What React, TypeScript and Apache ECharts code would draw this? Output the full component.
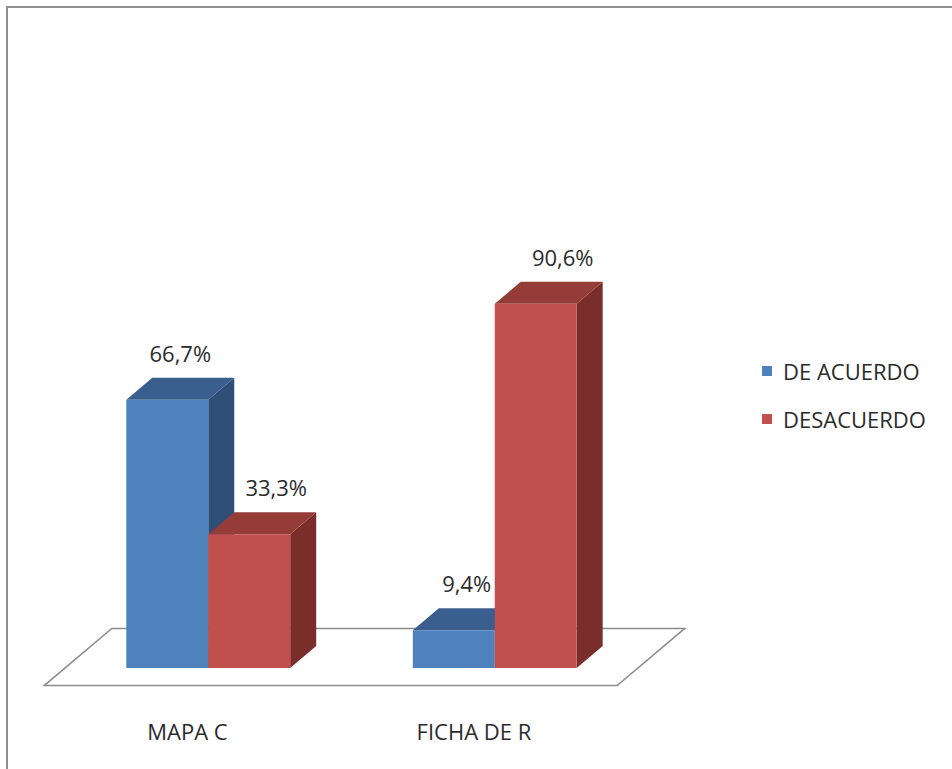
import React, { useEffect, useRef } from "react";
import * as echarts from "echarts";

// Survey results: share of answers per instrument
const categories = ["MAPA C", "FICHA DE R"];
const seriesNames = ["DE ACUERDO", "DESACUERDO"];
const deAcuerdo = [66.7, 9.4];
const desacuerdo = [33.3, 90.6];

// 3D look: front, top and side shades of each series colour
const palette = [
  { front: "#4F81BD", top: "#3A5F8E", side: "#2F4F78" },
  { front: "#C0504D", top: "#953C39", side: "#7A2E2C" },
];

const DEPTH_X = 26;
const DEPTH_Y = -22;
const BAR_RATIO = 0.286;
// extra horizontal nudge of the value label, per series
const LABEL_NUDGE = [0, 14];
const FONT = "'Open Sans', 'Noto Sans', sans-serif";
const TEXT_COLOR = "#2b2b2b";

const fmt = (v: number) => v.toFixed(1).replace(".", ",") + "%";

function barRenderer(seriesIdx: number) {
  const c = palette[seriesIdx];
  return (params: any, api: any) => {
    const cat = api.value(0);
    const val = api.value(1);
    const [cx, yTop] = api.coord([cat, val]);
    const [, yBase] = api.coord([cat, 0]);
    const band = api.size([1, 0])[0];
    const w = band * BAR_RATIO;
    const x0 = seriesIdx === 0 ? cx - w : cx;
    const x1 = x0 + w;
    const dx = DEPTH_X;
    const dy = DEPTH_Y;
    return {
      type: "group",
      children: [
        {
          type: "polygon",
          shape: {
            points: [
              [x1, yTop],
              [x1 + dx, yTop + dy],
              [x1 + dx, yBase + dy],
              [x1, yBase],
            ],
          },
          style: { fill: c.side },
        },
        {
          type: "polygon",
          shape: {
            points: [
              [x0, yTop],
              [x0 + dx, yTop + dy],
              [x1 + dx, yTop + dy],
              [x1, yTop],
            ],
          },
          style: { fill: c.top },
        },
        {
          type: "rect",
          shape: { x: x0, y: yTop, width: w, height: yBase - yTop },
          style: { fill: c.front },
        },
        {
          type: "text",
          x: (x0 + x1) / 2 + dx / 2 + LABEL_NUDGE[seriesIdx],
          y: yTop + dy - 25,
          style: {
            text: fmt(val),
            fontSize: 22,
            fontFamily: FONT,
            fill: TEXT_COLOR,
            align: "center",
            verticalAlign: "middle",
          },
        },
      ],
    };
  };
}

export default function App() {
  const ref = useRef<HTMLDivElement>(null);

  useEffect(() => {
    if (!ref.current) return;
    const chart = echarts.init(ref.current, undefined, { renderer: "svg" });

    const floorFront = -0.8;
    const floorBack = 1.8;

    chart.setOption({
      animation: false,
      backgroundColor: "#ffffff",
      graphic: [
        {
          type: "rect",
          shape: { x: 7, y: 7, width: 1200, height: 1200 },
          style: { fill: "none", stroke: "#8f8f8f", lineWidth: 2 },
          z: 0,
        },
      ],
      legend: {
        data: seriesNames,
        orient: "vertical",
        left: 757,
        top: 354,
        icon: "rect",
        itemWidth: 10,
        itemHeight: 10,
        itemGap: 24,
        textStyle: {
          fontSize: 22,
          fontFamily: FONT,
          color: TEXT_COLOR,
          lineHeight: 24,
          padding: [0, 0, 0, 6],
        },
      },
      grid: { left: 65, right: 314, top: 266, bottom: 101 },
      xAxis: {
        type: "category",
        data: categories,
        show: false,
      },
      yAxis: {
        type: "value",
        min: 0,
        max: 100,
        show: false,
      },
      series: [
        {
          type: "custom",
          name: "floor",
          z: 1,
          silent: true,
          data: [[0, 0]],
          encode: { x: 0, y: 1 },
          renderItem: (params: any, api: any) => {
            const cs = params.coordSys;
            const xl = cs.x;
            const xr = cs.x + cs.width;
            const yb = cs.y + cs.height;
            return {
              type: "polygon",
              shape: {
                points: [
                  [xl + floorFront * DEPTH_X, yb + floorFront * DEPTH_Y],
                  [xr + floorFront * DEPTH_X, yb + floorFront * DEPTH_Y],
                  [xr + floorBack * DEPTH_X, yb + floorBack * DEPTH_Y],
                  [xl + floorBack * DEPTH_X, yb + floorBack * DEPTH_Y],
                ],
              },
              style: { fill: "#ffffff", stroke: "#8c8c8c", lineWidth: 1.5 },
            };
          },
        },
        {
          type: "custom",
          name: "categoryLabels",
          z: 1,
          silent: true,
          data: categories.map((_, i) => [i, 0]),
          encode: { x: 0, y: 1 },
          renderItem: (params: any, api: any) => {
            const i = api.value(0);
            const [cx, yb] = api.coord([i, 0]);
            return {
              type: "text",
              x: cx + floorFront * DEPTH_X,
              y: yb + floorFront * DEPTH_Y + 45,
              style: {
                text: categories[i],
                fontSize: 22,
                fontFamily: FONT,
                fill: TEXT_COLOR,
                align: "center",
                verticalAlign: "middle",
              },
            };
          },
        },
        {
          type: "custom",
          name: seriesNames[0],
          z: 2,
          itemStyle: { color: palette[0].front },
          data: deAcuerdo.map((v, i) => [i, v]),
          encode: { x: 0, y: 1 },
          renderItem: barRenderer(0),
        },
        {
          type: "custom",
          name: seriesNames[1],
          z: 3,
          itemStyle: { color: palette[1].front },
          data: desacuerdo.map((v, i) => [i, v]),
          encode: { x: 0, y: 1 },
          renderItem: barRenderer(1),
        },
      ],
    });

    return () => chart.dispose();
  }, []);

  return (
    <div
      ref={ref}
      style={{ position: "fixed", left: 0, top: 0, width: 952, height: 769 }}
    />
  );
}
